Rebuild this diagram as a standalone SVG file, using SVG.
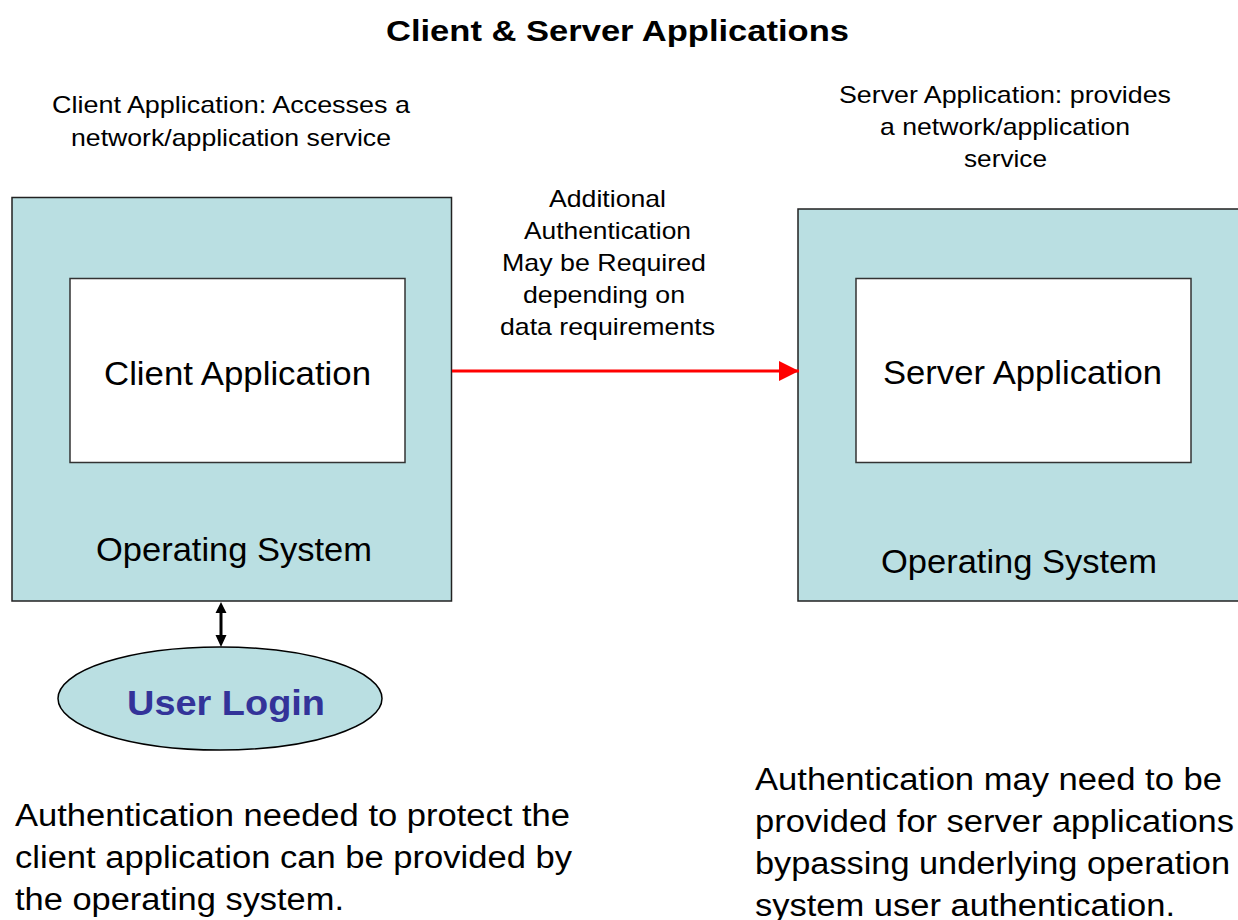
<svg xmlns="http://www.w3.org/2000/svg" width="1238" height="920" viewBox="0 0 1238 920">
<style>
text{font-family:"Liberation Sans",Arial,sans-serif;fill:#000}
.os{fill:#BADFE2;stroke:#222;stroke-width:1.5}
.app{fill:#fff;stroke:#333;stroke-width:1.5}
.lbl{font-size:24px;text-anchor:middle}
.big{font-size:33px;text-anchor:middle}
.note{font-size:31px}
</style>
<defs>
<marker id="redHead" markerWidth="20" markerHeight="20" refX="20" refY="10" orient="auto" markerUnits="userSpaceOnUse"><path d="M0,0 L20,10 L0,20 z" fill="#FF0000"/></marker>
</defs>
<text x="617.5" y="41" font-size="29" font-weight="bold" text-anchor="middle" textLength="463" lengthAdjust="spacingAndGlyphs">Client &amp; Server Applications</text>
<g id="client-caption"><text class="lbl" x="231" y="113" textLength="358" lengthAdjust="spacingAndGlyphs">Client Application: Accesses a</text><text class="lbl" x="231" y="146" textLength="320" lengthAdjust="spacingAndGlyphs">network/application service</text></g>
<g id="server-caption"><text class="lbl" x="1005" y="103" textLength="332" lengthAdjust="spacingAndGlyphs">Server Application: provides</text><text class="lbl" x="1005" y="135" textLength="250" lengthAdjust="spacingAndGlyphs">a network/application</text><text class="lbl" x="1005.5" y="167" textLength="83" lengthAdjust="spacingAndGlyphs">service</text></g>
<g id="auth-label"><text class="lbl" x="607.5" y="207" textLength="117" lengthAdjust="spacingAndGlyphs">Additional</text><text class="lbl" x="607.5" y="239" textLength="167" lengthAdjust="spacingAndGlyphs">Authentication</text><text class="lbl" x="604" y="271" textLength="204" lengthAdjust="spacingAndGlyphs">May be Required</text><text class="lbl" x="604" y="303" textLength="162" lengthAdjust="spacingAndGlyphs">depending on</text><text class="lbl" x="607.5" y="335" textLength="215" lengthAdjust="spacingAndGlyphs">data requirements</text></g>
<g id="client-os"><rect class="os" x="12" y="197.5" width="439.5" height="403.5"/><text class="big" x="234" y="561" textLength="276" lengthAdjust="spacingAndGlyphs">Operating System</text></g>
<g id="client-app"><rect class="app" x="70" y="278.5" width="335" height="184"/><text class="big" x="237.5" y="385" textLength="267" lengthAdjust="spacingAndGlyphs">Client Application</text></g>
<g id="server-os"><rect class="os" x="798" y="209" width="450" height="392"/><text class="big" x="1019" y="573" textLength="276" lengthAdjust="spacingAndGlyphs">Operating System</text></g>
<g id="server-app"><rect class="app" x="856" y="278.5" width="335" height="184"/><text class="big" x="1022.5" y="384" textLength="279" lengthAdjust="spacingAndGlyphs">Server Application</text></g>
<g id="user-login"><ellipse cx="220" cy="698.5" rx="162" ry="51.5" fill="#BADFE2" stroke="#000" stroke-width="1.5"/><text x="226" y="715" font-size="35" font-weight="bold" text-anchor="middle" textLength="198" lengthAdjust="spacingAndGlyphs" style="fill:#333399">User Login</text></g>
<g id="connectors">
<line x1="452" y1="371" x2="799" y2="371" stroke="#FF0000" stroke-width="3" marker-end="url(#redHead)"/>
<line x1="221" y1="613" x2="221" y2="635" stroke="#000" stroke-width="3"/>
<path d="M215.5,613 L221,602 L226.5,613 z M215.5,635 L221,647 L226.5,635 z" fill="#000"/>
</g>
<g id="client-note"><text class="note" x="15" y="826" textLength="555" lengthAdjust="spacingAndGlyphs">Authentication needed to protect the</text><text class="note" x="15" y="868" textLength="557" lengthAdjust="spacingAndGlyphs">client application can be provided by</text><text class="note" x="15" y="910" textLength="329" lengthAdjust="spacingAndGlyphs">the operating system.</text></g>
<g id="server-note"><text class="note" x="755" y="790" textLength="467" lengthAdjust="spacingAndGlyphs">Authentication may need to be</text><text class="note" x="755" y="832" textLength="479" lengthAdjust="spacingAndGlyphs">provided for server applications</text><text class="note" x="755" y="874" textLength="475" lengthAdjust="spacingAndGlyphs">bypassing underlying operation</text><text class="note" x="755" y="916" textLength="420" lengthAdjust="spacingAndGlyphs">system user authentication.</text></g>
</svg>
